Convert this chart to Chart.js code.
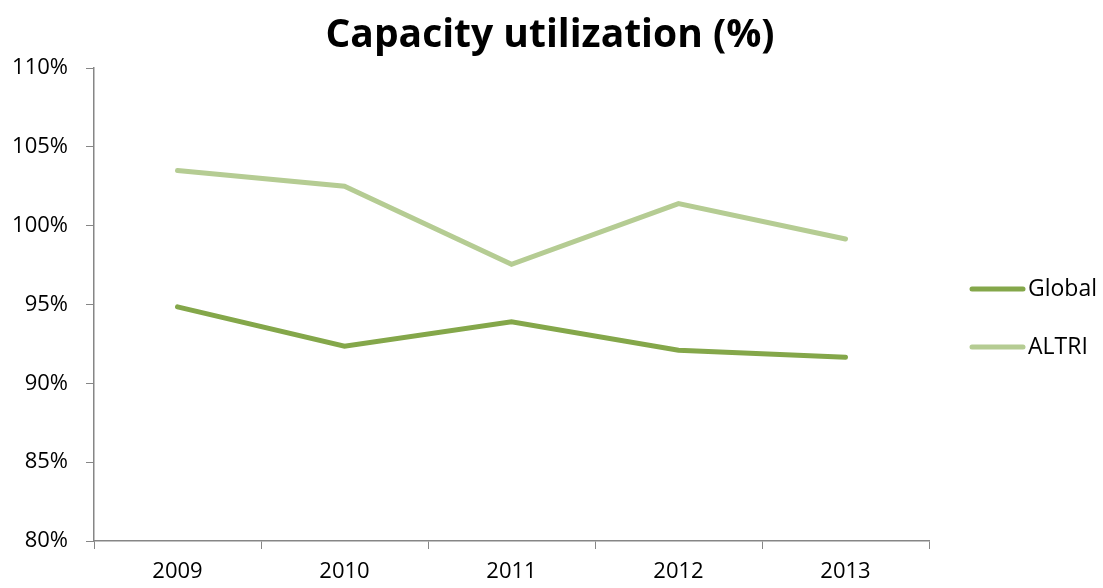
<!DOCTYPE html>
<html lang="en">
<head>
    <meta charset="UTF-8">
    <title>Capacity utilization (%)</title>
    <script src="https://cdn.jsdelivr.net/npm/chart.js"></script>
    <style>
        html, body {
            margin: 0;
            padding: 0;
            background: #ffffff;
        }
        #wrap {
            width: 1103px;
            height: 588px;
        }
    </style>
</head>
<body>
    <div id="wrap">
        <canvas id="capacityChart" width="1103" height="588"></canvas>
    </div>

    <script>
        // Yearly capacity utilization, in percent
        const years = ['2009', '2010', '2011', '2012', '2013'];
        const globalValues = [94.85, 92.35, 93.9, 92.1, 91.65];
        const altriValues = [103.5, 102.5, 97.55, 101.4, 99.15];
        const seriesNames = ['Global', 'ALTRI'];
        const seriesColors = ['#84a74a', '#b5cc93'];
        const chartTitle = 'Capacity utilization (%)';

        const FONT = '"Open Sans", Lato, sans-serif';
        const AXIS_GREY = '#868686';

        // Title centred on the whole canvas, not just the plot area
        const pageTitle = {
            id: 'pageTitle',
            afterDraw(chart) {
                const ctx = chart.ctx;
                ctx.save();
                ctx.fillStyle = '#000000';
                ctx.font = 'bold 39px ' + FONT;
                ctx.textAlign = 'center';
                ctx.textBaseline = 'alphabetic';
                ctx.fillText(chartTitle, 550, 47);
                ctx.restore();
            }
        };

        // Legend at the right, drawn by hand so the spacing can follow the layout
        const sideLegend = {
            id: 'sideLegend',
            afterDraw(chart) {
                const ctx = chart.ctx;
                const x0 = 972, x1 = 1023;
                const rows = [289, 347];
                ctx.save();
                chart.data.datasets.forEach((ds, i) => {
                    const y = rows[i];
                    ctx.strokeStyle = ds.borderColor;
                    ctx.lineWidth = 5;
                    ctx.lineCap = 'round';
                    ctx.beginPath();
                    ctx.moveTo(x0, y);
                    ctx.lineTo(x1, y);
                    ctx.stroke();
                    ctx.fillStyle = '#000000';
                    ctx.font = '23px ' + FONT;
                    ctx.textBaseline = 'middle';
                    ctx.textAlign = 'left';
                    ctx.fillText(ds.label, x1 + 5, y);
                });
                ctx.restore();
            }
        };

        const ctx = document.getElementById('capacityChart').getContext('2d');
        const capacityChart = new Chart(ctx, {
            type: 'line',
            data: {
                labels: years,
                datasets: [
                    {
                        label: seriesNames[0],
                        data: globalValues,
                        borderColor: seriesColors[0],
                        backgroundColor: seriesColors[0],
                        borderWidth: 5,
                        pointRadius: 0,
                        borderCapStyle: 'round',
                        tension: 0
                    },
                    {
                        label: seriesNames[1],
                        data: altriValues,
                        borderColor: seriesColors[1],
                        backgroundColor: seriesColors[1],
                        borderWidth: 5,
                        pointRadius: 0,
                        borderCapStyle: 'round',
                        tension: 0
                    }
                ]
            },
            plugins: [pageTitle, sideLegend],
            options: {
                responsive: false,
                animation: false,
                layout: {
                    padding: { left: 0, right: 174, top: 68, bottom: 0 }
                },
                plugins: {
                    legend: { display: false },
                    tooltip: { enabled: false },
                    title: { display: false }
                },
                scales: {
                    x: {
                        offset: true,
                        grid: {
                            offset: true,
                            drawOnChartArea: false,
                            drawTicks: true,
                            tickLength: 8,
                            color: AXIS_GREY
                        },
                        border: { color: AXIS_GREY, width: 1.5 },
                        ticks: {
                            color: '#000000',
                            font: { family: FONT, size: 22 },
                            padding: 10,
                            maxRotation: 0
                        },
                        afterFit(scale) { scale.height = 47; }
                    },
                    y: {
                        min: 80,
                        max: 110,
                        grid: {
                            drawOnChartArea: false,
                            drawTicks: true,
                            tickLength: 8,
                            color: AXIS_GREY
                        },
                        border: { color: AXIS_GREY, width: 1.5 },
                        ticks: {
                            stepSize: 5,
                            color: '#000000',
                            font: { family: FONT, size: 22 },
                            padding: 18,
                            callback: v => v + '%'
                        },
                        afterFit(scale) { scale.width = 94; }
                    }
                }
            }
        });
    </script>
</body>
</html>
